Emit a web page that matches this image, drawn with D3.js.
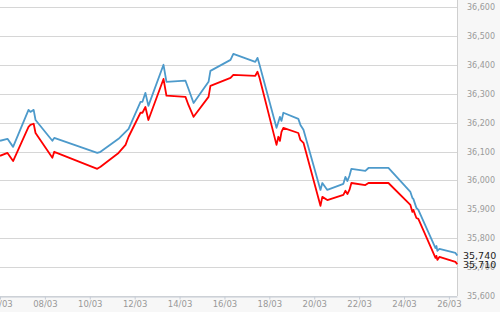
<!DOCTYPE html>
<html lang="en">
    <head>
        <meta charset="utf-8">
        <title>Two series line chart</title>
        <script src="https://d3js.org/d3.v7.min.js"></script>
        <style type="text/css">
            body { margin: 0; background: #fff; }
            text { font-family: "DejaVu Sans", sans-serif; }
        </style>
    </head>
    <body>
        <script type="text/javascript">

            const svgW = 500;
            const svgH = 312;
            const plotW = 457;
            const plotH = 296;

            // time points (dd/mm HH:MM), shared by both series
            const times = [
                "06/03 00:00", "06/03 08:00", "06/03 14:00", "07/03 06:30", "07/03 08:30",
                "07/03 12:00", "07/03 14:00", "08/03 08:00", "08/03 10:00", "10/03 08:00",
                "10/03 11:30", "11/03 06:45", "11/03 14:15", "11/03 17:30", "12/03 06:15",
                "12/03 08:20", "12/03 11:30", "12/03 14:40", "13/03 06:50", "13/03 10:00",
                "14/03 06:20", "14/03 09:30", "14/03 15:00", "15/03 07:00", "15/03 09:00",
                "16/03 06:30", "16/03 09:30", "17/03 09:00", "17/03 11:20", "17/03 13:30",
                "18/03 07:40", "18/03 09:40", "18/03 11:20", "18/03 13:00", "18/03 15:00",
                "19/03 07:00", "19/03 09:15", "19/03 12:30", "20/03 06:40", "20/03 08:40",
                "20/03 14:00", "21/03 07:10", "21/03 09:20", "21/03 11:30", "21/03 13:40",
                "21/03 15:45", "22/03 06:40", "22/03 10:00", "23/03 07:20", "24/03 06:50",
                "24/03 09:00", "24/03 10:00", "24/03 13:15", "24/03 15:20", "25/03 09:40",
                "25/03 10:40", "25/03 11:40", "25/03 13:50", "26/03 07:00", "26/03 09:00"
            ];

            const blueValues = [
                36137, 36144, 36116, 36244, 36237, 36244, 36209, 36137, 36147, 36095,
                36099, 36144, 36168, 36178, 36272, 36272, 36303, 36258, 36400, 36341,
                36345, 36317, 36268, 36341, 36379, 36417, 36438, 36410, 36424, 36400,
                36182, 36202, 36220, 36206, 36234, 36213, 36192, 36175, 35967, 35991,
                35967, 35988, 36012, 35998, 36016, 36040, 36033, 36043, 36043, 35960,
                35939, 35936, 35905, 35898, 35766, 35773, 35756, 35763, 35749, 35740
            ];

            const redValues = [
                36085, 36095, 36067, 36185, 36192, 36196, 36164, 36078, 36099, 36040,
                36047, 36095, 36123, 36151, 36234, 36234, 36254, 36209, 36351, 36293,
                36289, 36261, 36220, 36289, 36327, 36355, 36365, 36362, 36376, 36355,
                36123, 36151, 36137, 36168, 36182, 36164, 36140, 36130, 35912, 35943,
                35932, 35950, 35964, 35953, 35967, 35991, 35984, 35991, 35991, 35915,
                35891, 35898, 35870, 35867, 35732, 35739, 35725, 35735, 35718, 35710
            ];

            const xTickLabels = ["06/03", "08/03", "10/03", "12/03", "14/03", "16/03",
                                 "18/03", "20/03", "22/03", "24/03", "26/03"];
            const yTickValues = [35600, 35700, 35800, 35900, 36000, 36100,
                                 36200, 36300, 36400, 36500, 36600];

            const parseTime = d3.timeParse("%d/%m %H:%M");
            const parseDay = d3.timeParse("%d/%m");

            const blueData = times.map((t, i) => ({ t: parseTime(t), v: blueValues[i] }));
            const redData = times.map((t, i) => ({ t: parseTime(t), v: redValues[i] }));

            const xScale = d3.scaleTime()
                             .domain([parseTime("06/03 00:00"), parseTime("26/03 08:40")])
                             .range([0, plotW]);

            const yScale = d3.scaleLinear()
                             .domain([35600, 36600])
                             .range([plotH, 7]);

            const svg = d3.select("body")
                    .append("svg")
                    .attr("width", svgW)
                    .attr("height", svgH);

            // axis panels
            svg.append("rect")
                .attr("x", plotW).attr("y", 0)
                .attr("width", svgW - plotW).attr("height", svgH)
                .attr("fill", "#f7f7f7");
            svg.append("rect")
                .attr("x", 0).attr("y", plotH)
                .attr("width", svgW).attr("height", svgH - plotH)
                .attr("fill", "#f7f7f7");

            // grid
            svg.append("g")
                .selectAll("line")
                .data(yTickValues)
                .enter()
                .append("line")
                .attr("x1", 0)
                .attr("x2", plotW)
                .attr("y1", d => Math.round(yScale(d)) + 0.5)
                .attr("y2", d => Math.round(yScale(d)) + 0.5)
                .attr("stroke", "#d6d6d6")
                .attr("stroke-width", 1);

            // plot border
            svg.append("line")
                .attr("x1", plotW + 0.5).attr("x2", plotW + 0.5)
                .attr("y1", 0).attr("y2", plotH)
                .attr("stroke", "#cfcfcf");

            const bottomAxis = d3.axisBottom(xScale)
                                .tickValues(xTickLabels.map(parseDay))
                                .tickFormat(d3.timeFormat("%d/%m"))
                                .tickSizeInner(3)
                                .tickSizeOuter(0)
                                .tickPadding(1);

            const gx = svg.append("g")
                .attr("transform", "translate(0," + (plotH + 0.5) + ")")
                .call(bottomAxis);
            gx.select(".domain").attr("stroke", "#c5ccd6");
            gx.selectAll(".tick line").attr("stroke", "#c5ccd6");
            gx.selectAll(".tick text")
                .attr("fill", "#999")
                .style("font-size", "8.5px")
                .style("font-family", "DejaVu Sans");

            const rightAxis = d3.axisRight(yScale)
                             .tickValues(yTickValues)
                             .tickFormat(d3.format(","))
                             .tickSize(0)
                             .tickPadding(10);

            const gy = svg.append("g")
                 .attr("transform", "translate(" + plotW + ",0)")
                 .call(rightAxis);
            gy.select(".domain").remove();
            gy.selectAll(".tick text")
                .attr("fill", "#9a9a9a")
                .style("font-size", "8px")
                .style("font-family", "DejaVu Sans");

            const line = d3.line()
                           .x(d => xScale(d.t))
                           .y(d => yScale(d.v));

            svg.append("path")
                .datum(blueData)
                .attr("fill", "none")
                .attr("stroke", "#4d9acb")
                .attr("stroke-width", 1.8)
                .attr("stroke-linejoin", "round")
                .attr("d", line);

            svg.append("path")
                .datum(redData)
                .attr("fill", "none")
                .attr("stroke", "#ff0000")
                .attr("stroke-width", 1.8)
                .attr("stroke-linejoin", "round")
                .attr("d", line);

            // last value labels
            const lastLabels = [blueData[blueData.length - 1], redData[redData.length - 1]];
            svg.selectAll(".last")
                .data(lastLabels)
                .enter()
                .append("text")
                .attr("class", "last")
                .attr("x", plotW + 6)
                .attr("y", d => yScale(d.v))
                .attr("dy", "0.35em")
                .attr("fill", "#222")
                .style("font-size", "9.5px")
                .text(d => d3.format(",")(d.v));

        </script>
    </body>
</html>
